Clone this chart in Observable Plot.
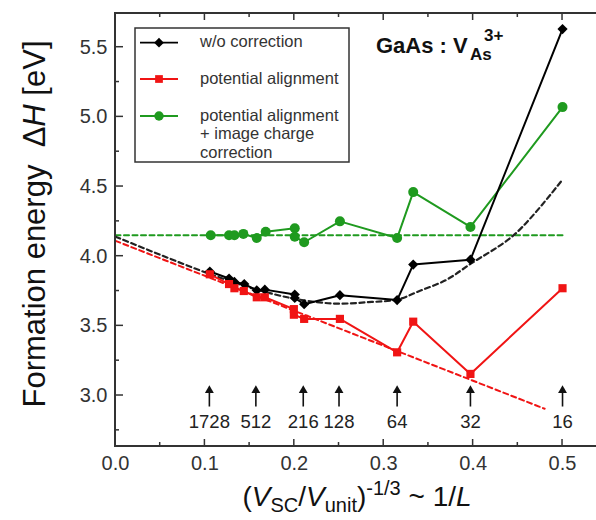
<!DOCTYPE html>
<html><head><meta charset="utf-8">
<script src="https://cdn.jsdelivr.net/npm/d3@7"></script>
<script src="https://cdn.jsdelivr.net/npm/@observablehq/plot@0.6"></script>
<style>html,body{margin:0;padding:0;background:#fff;overflow:hidden} svg{display:block}</style>
</head><body><div id="chart"></div>
<script>
const FONT = "Liberation Sans, Arial, Helvetica, sans-serif";

// ---- data ----
const seriesNames = ["w/o correction", "potential alignment", "potential alignment|+ image charge|correction"];
const seriesColors = ["#000000", "#f01414", "#1f9a1f"];
const seriesSymbols = ["diamond2", "square", "circle"];

const xNoCorr = [0.1055, 0.127, 0.133, 0.144, 0.158, 0.167, 0.2005, 0.2005, 0.211, 0.251, 0.315, 0.333, 0.397, 0.5];
const yNoCorr = [3.89, 3.84, 3.815, 3.80, 3.755, 3.76, 3.725, 3.70, 3.655, 3.72, 3.685, 3.94, 3.975, 5.63];

const xAlign = [0.1055, 0.127, 0.133, 0.1435, 0.158, 0.167, 0.1995, 0.1995, 0.211, 0.251, 0.315, 0.333, 0.397, 0.5];
const yAlign = [3.87, 3.80, 3.77, 3.75, 3.705, 3.705, 3.62, 3.58, 3.55, 3.55, 3.31, 3.53, 3.155, 3.77];

const xImage = [0.1065, 0.127, 0.133, 0.143, 0.158, 0.168, 0.2005, 0.2005, 0.211, 0.251, 0.315, 0.333, 0.397, 0.5];
const yImage = [4.15, 4.15, 4.15, 4.16, 4.13, 4.175, 4.20, 4.14, 4.10, 4.25, 4.13, 4.46, 4.21, 5.07];

// dashed guide curves
const xFitBlack = [0, 0.05, 0.1, 0.15, 0.2, 0.245, 0.283, 0.316, 0.34, 0.37, 0.396, 0.447, 0.5];
const yFitBlack = [4.14, 4.01, 3.885, 3.775, 3.695, 3.66, 3.67, 3.69, 3.75, 3.83, 3.94, 4.16, 4.55];
const xFitRed = [0, 0.48];
const yFitRed = [4.11, 2.905];
const xFitGreen = [0, 0.5];
const yFitGreen = [4.15, 4.15];

// supercell size annotations
const cellLabels = ["1728", "512", "216", "128", "64", "32", "16"];
const cellX = [0.105, 0.157, 0.21, 0.25, 0.315, 0.397, 0.5];

// ticks
const xTicksMajor = [0, 0.1, 0.2, 0.3, 0.4, 0.5];
const xTicksMinor = [0.05, 0.15, 0.25, 0.35, 0.45];
const yTicksMajor = [3.0, 3.5, 4.0, 4.5, 5.0, 5.5];
const yTicksMinor = [2.75, 3.25, 3.75, 4.25, 4.75, 5.25];

const zip = (xs, ys) => xs.map((x, i) => ({x, y: ys[i]}));
const noCorr = zip(xNoCorr, yNoCorr);
const align = zip(xAlign, yAlign);
const image = zip(xImage, yImage);
const fitBlack = zip(xFitBlack, yFitBlack);
const fitRed = zip(xFitRed, yFitRed);
const fitGreen = zip(xFitGreen, yFitGreen);

// frame with inward ticks
function frameMark(index, {x, y}, values, dims) {
  const L = dims.marginLeft, R = dims.width - dims.marginRight, T = dims.marginTop, B = dims.height - dims.marginBottom;
  const g = d3.create("svg:g").attr("stroke", "#333").attr("fill", "none");
  const tk = (arr, len) => {
    for (const v of arr) {
      const px = x(v);
      g.append("line").attr("x1", px).attr("x2", px).attr("y1", B).attr("y2", B - len).attr("stroke-width", 1.5);
      g.append("line").attr("x1", px).attr("x2", px).attr("y1", T).attr("y2", T + len).attr("stroke-width", 1.5);
    }
  };
  const tky = (arr, len) => {
    for (const v of arr) {
      const py = y(v);
      g.append("line").attr("y1", py).attr("y2", py).attr("x1", L).attr("x2", L + len).attr("stroke-width", 1.5);
    }
  };
  tk(xTicksMajor, 7); tk(xTicksMinor, 4);
  tky(yTicksMajor, 8); tky(yTicksMinor, 4);
  g.append("path").attr("d", `M${R + 2},${T}H${L}V${B}H${R + 2}`).attr("stroke-width", 2);
  return g.node();
}

// legend, title and axis labels
function annotMark(index, scales, values, dims) {
  const g = d3.create("svg:g").attr("font-family", FONT).attr("text-anchor", "start");
  // legend box
  g.append("rect").attr("x", 135).attr("y", 28).attr("width", 214).attr("height", 134)
    .attr("fill", "#fff").attr("stroke", "#333").attr("stroke-width", 1.5);
  const rows = [42.7, 79, 116];
  seriesNames.forEach((name, i) => {
    const cy = rows[i];
    g.append("line").attr("x1", 140).attr("x2", 178).attr("y1", cy).attr("y2", cy)
      .attr("stroke", seriesColors[i]).attr("stroke-width", 1.8);
    const sym = {diamond2: d3.symbolDiamond2, square: d3.symbolSquare, circle: d3.symbolCircle}[seriesSymbols[i]];
    const size = seriesSymbols[i] === "circle" ? 70 : seriesSymbols[i] === "square" ? 60 : 60;
    g.append("path").attr("d", d3.symbol(sym, size)()).attr("transform", `translate(159,${cy})`)
      .attr("fill", seriesColors[i]);
    const t = g.append("text").attr("x", 200).attr("y", cy + 4.5).attr("font-size", 16.5).attr("fill", "#333");
    name.split("|").forEach((line, k) => {
      t.append("tspan").attr("x", 200).attr("dy", k === 0 ? 0 : 18.5).text(line);
    });
  });
  // title
  g.append("text").attr("x", 376).attr("y", 53).attr("font-size", 22).attr("font-weight", "bold").attr("fill", "#111").text("GaAs : V");
  g.append("text").attr("x", 470).attr("y", 60).attr("font-size", 17).attr("font-weight", "bold").attr("fill", "#111").text("As");
  g.append("text").attr("x", 484).attr("y", 41).attr("font-size", 17).attr("font-weight", "bold").attr("fill", "#111").text("3+");
  // y label
  const yl = g.append("text").attr("transform", "translate(45,224) rotate(-90)").attr("text-anchor", "middle")
    .attr("font-size", 31).attr("fill", "#111");
  yl.append("tspan").text("Formation energy \u00a0\u0394");
  yl.append("tspan").attr("font-style", "italic").text("H");
  yl.append("tspan").text(" [eV]");
  // x label
  const xl = g.append("text").attr("x", 357).attr("y", 506).attr("text-anchor", "middle").attr("font-size", 28).attr("fill", "#111");
  xl.append("tspan").text("(");
  xl.append("tspan").attr("font-style", "italic").text("V");
  xl.append("tspan").attr("font-size", 20).attr("dy", 6).text("SC");
  xl.append("tspan").attr("dy", -6).text("/");
  xl.append("tspan").attr("font-style", "italic").text("V");
  xl.append("tspan").attr("font-size", 20).attr("dy", 6).text("unit");
  xl.append("tspan").attr("dy", -6).text(")");
  xl.append("tspan").attr("font-size", 20).attr("dy", -11).text("-1/3");
  xl.append("tspan").attr("dy", 11).text(" ~ 1/");
  xl.append("tspan").attr("font-style", "italic").text("L");
  return g.node();
}

const chart = Plot.plot({
  width: 596, height: 520,
  marginLeft: 115, marginRight: 0, marginTop: 13, marginBottom: 74,
  x: {domain: [0, 0.538], ticks: xTicksMajor, tickSize: 0, tickPadding: 9, tickFormat: d3.format(".1f"), label: null},
  y: {domain: [2.634, 5.742], ticks: yTicksMajor, tickSize: 0, tickPadding: 8, tickFormat: d3.format(".1f"), label: null},
  style: {fontFamily: FONT, fontSize: "20px", color: "#333", background: "#fff", overflow: "visible"},
  marks: [
    Plot.line(fitGreen, {x: "x", y: "y", stroke: seriesColors[2], strokeWidth: 2, strokeDasharray: "5,3.5"}),
    Plot.line(fitRed, {x: "x", y: "y", stroke: seriesColors[1], strokeWidth: 2, strokeDasharray: "5,3.5"}),
    Plot.line(fitBlack, {x: "x", y: "y", curve: "catmull-rom", stroke: "#222", strokeWidth: 2.2, strokeDasharray: "5,3.5"}),
    Plot.line(image, {x: "x", y: "y", stroke: seriesColors[2], strokeWidth: 2}),
    Plot.dot(image, {x: "x", y: "y", symbol: "circle", fill: seriesColors[2], r: 5}),
    Plot.line(noCorr, {x: "x", y: "y", stroke: seriesColors[0], strokeWidth: 2}),
    Plot.dot(noCorr, {x: "x", y: "y", symbol: "diamond2", fill: seriesColors[0], r: 4.6}),
    Plot.line(align, {x: "x", y: "y", stroke: seriesColors[1], strokeWidth: 2}),
    Plot.dot(align, {x: "x", y: "y", symbol: "square", fill: seriesColors[1], r: 4.6}),
    Plot.link(cellX, {x1: d => d, x2: d => d, y1: 2.921, y2: 3.02, stroke: "#111", strokeWidth: 1.6}),
    Plot.dot(cellX, {x: d => d, y: 3.037, symbol: "triangle", fill: "#111", r: 3.3}),
    Plot.text(cellX, {x: d => d, y: 2.806, text: (d, i) => cellLabels[i], fontSize: 18.5, fill: "#222"}),
    frameMark,
    annotMark
  ]
});
document.getElementById("chart").appendChild(chart);
</script>
</body></html>
